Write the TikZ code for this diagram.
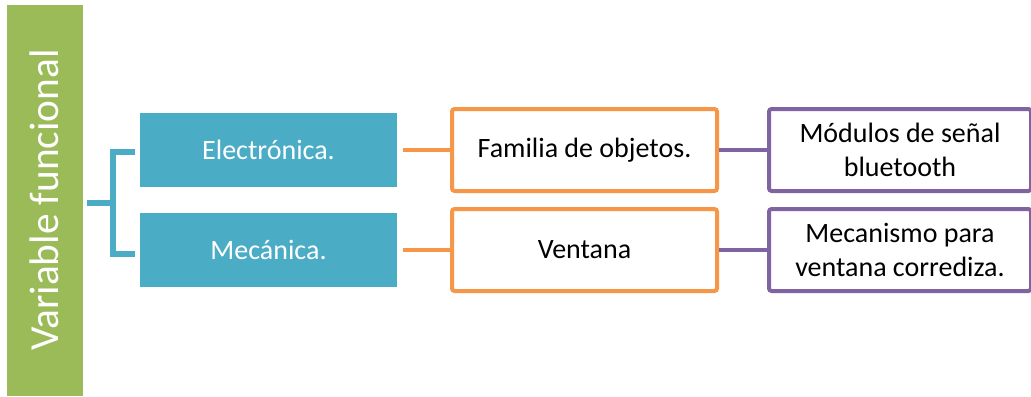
\documentclass[tikz,border=0pt]{standalone}
\usepackage{fontspec}
\setmainfont{Carlito}
\definecolor{vgreen}{HTML}{9BBB59}
\definecolor{vteal}{HTML}{4BACC6}
\definecolor{vorange}{HTML}{F79646}
\definecolor{vpurple}{HTML}{8064A2}
\begin{document}
\begin{tikzpicture}[x=0.75pt,y=-0.75pt,
  tealbox/.style={fill=vteal,text=white,minimum width=257*0.75pt,minimum height=74*0.75pt,inner sep=0pt,font=\fontsize{21}{25}\selectfont},
  orbox/.style={draw=vorange,fill=white,line width=3pt,rounded corners=2pt,minimum width=265*0.75pt,minimum height=82*0.75pt,inner sep=0pt,align=center,font=\fontsize{21}{25}\selectfont},
  pubox/.style={draw=vpurple,fill=white,line width=3pt,rounded corners=2pt,minimum width=262*0.75pt,minimum height=82*0.75pt,inner sep=0pt,align=center,font=\fontsize{21}{25}\selectfont},
  bracketline/.style={draw=vteal,line width=4pt},
  orline/.style={draw=vorange,line width=3.5pt},
  puline/.style={draw=vpurple,line width=3.5pt}]
\useasboundingbox (0,0) rectangle (1031,396);
\fill[white] (0,0) rectangle (1031,396);
\node[fill=vgreen,minimum width=76*0.75pt,minimum height=391*0.75pt,inner sep=0pt] (var) at (45,200.5) {};
\node[rotate=90,text=white,font=\fontsize{31}{36}\selectfont] (vartext) at (44,200) {Variable funcional};
\node[tealbox] (elec) at (268.5,150) {Electrónica.};
\node[tealbox] (mec) at (268.5,250) {Mecánica.};
\node[orbox] (fam) at (584.5,150) {Familia de objetos.};
\node[orbox] (ven) at (584.5,250) {Ventana};
\node[pubox] (mod) at (900,150) {Módulos de señal\\bluetooth};
\node[pubox] (mecz) at (900,250) {Mecanismo para\\ventana corrediza.};
\coordinate (btop) at (135,152);
\coordinate (bbot) at (135,254);
\coordinate (bmid) at (113,203);
\coordinate (bstub) at (87,203);
\draw[bracketline] (btop) -- (113,152) -- (113,254) -- (bbot);
\draw[bracketline] (bstub) -- (bmid);
\draw[orline] ([xshift=4.5pt]elec.east) -- (fam.west);
\draw[orline] ([xshift=4.5pt]mec.east) -- (ven.west);
\draw[puline] (fam.east) -- (mod.west);
\draw[puline] (ven.east) -- (mecz.west);
\end{tikzpicture}
\end{document}
